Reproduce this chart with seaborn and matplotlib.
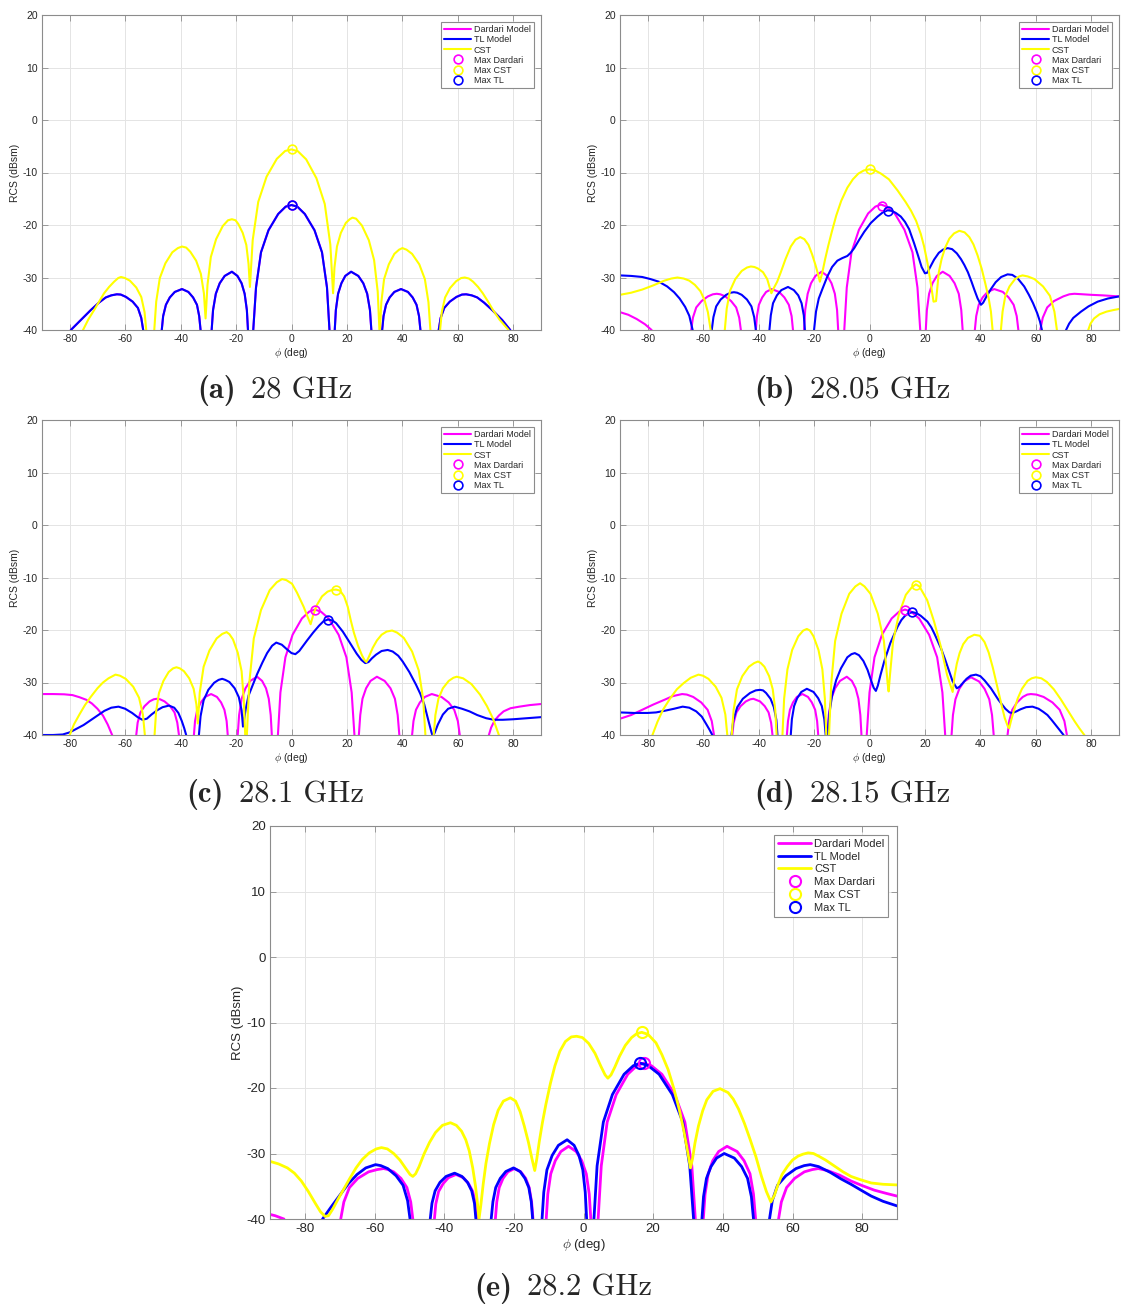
import matplotlib
matplotlib.use("Agg")
import matplotlib.pyplot as plt
import numpy as np
import seaborn as sns

# ---- data: (phi [deg], RCS [dBsm]) ----
# values below -40 only mark nulls that fall outside the visible range

A_TL = [(-84, -50), (-79.6, -40), (-76, -38.1), (-72.4, -36.2), (-69.5, -34.8), (-67, -33.8),
        (-65, -33.4), (-63, -33.2), (-61.6, -33.25), (-59.7, -33.7), (-57.3, -34.6), (-55.4, -35.8),
        (-54.2, -37.7), (-53.5, -40), (-50, -60), (-46.8, -40), (-46.3, -37.35), (-45.3, -35.2),
        (-43.9, -33.8), (-42.1, -32.75), (-39.5, -32.2), (-37.2, -32.75), (-35.5, -33.8),
        (-34.1, -35.2), (-33.3, -37.35), (-32.8, -40), (-30.8, -60), (-28.8, -40), (-28.3, -36.2),
        (-27.3, -33.1), (-25.9, -31.1), (-24.1, -29.7), (-21.5, -28.9), (-19.5, -29.7),
        (-18, -31.1), (-16.9, -33.1), (-16.1, -36.2), (-15.7, -40), (-14.7, -60), (-13.8, -40),
        (-12.8, -31.9), (-11, -25.2), (-8.3, -21), (-4.8, -17.9), (-2.1, -16.5), (0, -16.2),
        (2.1, -16.5), (4.8, -17.9), (8.3, -21), (11, -25.2), (12.8, -31.9), (13.7, -40),
        (14.7, -60), (15.6, -40), (16, -36.2), (16.8, -33.1), (18, -31.1), (19.4, -29.7),
        (21.5, -28.9), (24.1, -29.7), (25.9, -31.1), (27.3, -33.1), (28.3, -36.2), (28.8, -40),
        (30.8, -60), (32.7, -40), (33.2, -37.35), (34.1, -35.2), (35.4, -33.8), (37.1, -32.75),
        (39.5, -32.2), (42, -32.75), (43.7, -33.8), (45.1, -35.2), (46, -37.35), (46.5, -40),
        (49.8, -60), (53.1, -40), (53.8, -37.7), (55.1, -35.8), (57.1, -34.6), (59.5, -33.7),
        (61.5, -33.25), (63, -33.2), (65, -33.4), (67, -33.8), (69.5, -34.8), (72.4, -36.2),
        (76, -38.1), (78.9, -40), (84, -50)]
A_DARDARI = A_TL
A_CST = [(-80, -55), (-75.2, -40), (-73.3, -38), (-71.2, -36.2), (-69.3, -34.5), (-67.6, -33),
         (-65.8, -31.8), (-64, -30.8), (-62.5, -30.1), (-61.5, -29.9), (-60.1, -30.1),
         (-58.3, -30.6), (-56, -31.9), (-54.2, -33.7), (-53, -36.6), (-52.4, -40), (-51, -60),
         (-49.5, -40), (-48.8, -34.6), (-47.5, -30.1), (-45.5, -27.3), (-43, -25.2), (-41, -24.4),
         (-39.5, -24.1), (-38, -24.3), (-36.5, -25.1), (-34.4, -26.8), (-32.7, -29.3),
         (-31.6, -33), (-31, -37.8), (-30.3, -31.4), (-29.1, -26.1), (-27.2, -22.7),
         (-24.8, -20.2), (-22.9, -19.1), (-21.5, -18.9), (-20.2, -19.1), (-19.2, -19.8),
         (-17.6, -21.5), (-16.3, -23.8), (-15.5, -27.4), (-15, -31.8), (-14, -22.9), (-12, -15.6),
         (-9, -10.8), (-5.3, -7.4), (-2.3, -5.9), (0, -5.6), (2.3, -5.95), (5.3, -7.5), (9, -11.1),
         (12, -16), (14, -23.7), (15, -33), (15.5, -28.1), (16.4, -24.1), (17.8, -21.5),
         (19.6, -19.6), (21, -18.9), (22, -18.6), (23.3, -18.8), (25.4, -20.1), (27.9, -22.9),
         (29.8, -26.7), (31.1, -32.7), (31.8, -41), (32.4, -34.7), (33.4, -30.3), (35.1, -27.5),
         (37.1, -25.5), (38.8, -24.7), (40, -24.4), (41.5, -24.7), (43.5, -25.5), (46.1, -27.5),
         (48.1, -30.3), (49.4, -34.7), (50.1, -40), (51.8, -60), (53.6, -40), (54.2, -36.6),
         (55.4, -33.8), (57.2, -32), (59.4, -30.7), (61.2, -30.1), (62.5, -30), (64, -30.2),
         (65.5, -30.8), (67.3, -31.8), (69, -33), (70.8, -34.5), (72.7, -36.2), (75, -38),
         (78.3, -40), (82, -50)]

B_DARDARI = [(-90, -36.6), (-87, -37.1), (-84, -37.9), (-81, -38.9), (-78.6, -40), (-71.5, -60),
             (-64.3, -40), (-63.7, -37.65), (-62.5, -35.7), (-60.6, -34.5), (-58.3, -33.6),
             (-56.5, -33.2), (-55.1, -33.1), (-53.8, -33.2), (-52, -33.6), (-49.9, -34.5),
             (-48.1, -35.7), (-47, -37.65), (-46.4, -40), (-43.7, -60), (-41, -40), (-40.6, -37.35),
             (-39.9, -35.2), (-38.7, -33.8), (-37.3, -32.75), (-35.3, -32.2), (-32.6, -32.75),
             (-30.7, -33.8), (-29.1, -35.2), (-28.1, -37.35), (-27.6, -40), (-25.6, -60),
             (-23.6, -40), (-23.2, -36.2), (-22.3, -33.1), (-21.1, -31.1), (-19.5, -29.7),
             (-17.3, -28.9), (-15.2, -29.7), (-13.7, -31.1), (-12.5, -33.1), (-11.7, -36.2),
             (-11.3, -40), (-10.2, -60), (-9.1, -40), (-8.2, -31.9), (-6.5, -25.2), (-3.8, -20.9),
             (-0.5, -17.8), (2.1, -16.5), (4.1, -16.1), (6.2, -16.5), (9.1, -17.8), (12.6, -20.9),
             (15.5, -25.2), (17.3, -31.9), (18.3, -40), (19.3, -60), (20.3, -40), (20.7, -36.2),
             (21.5, -33.1), (22.7, -31.1), (24.3, -29.7), (26.4, -28.9), (28.9, -29.7),
             (30.7, -31.1), (32.2, -33.1), (33.1, -36.2), (33.6, -40), (35.8, -60), (38, -40),
             (38.5, -37.35), (39.4, -35.2), (40.8, -33.8), (42.6, -32.75), (45, -32.2),
             (48.1, -32.75), (50.2, -33.8), (52, -35.2), (53.1, -37.35), (53.7, -40), (57.6, -60),
             (61.6, -40), (62.5, -37.65), (64.1, -35.7), (66.5, -34.5), (69.9, -33.6),
             (72.1, -33.2), (73.9, -33.1), (77, -33.2), (80, -33.3), (84, -33.4), (90, -33.6)]
B_TL = [(-90, -29.6), (-86, -29.7), (-82, -29.9), (-79, -30.3), (-76, -30.8), (-73, -31.7),
        (-70.5, -32.8), (-68.5, -34), (-66.5, -35.6), (-65, -37.3), (-63.8, -40), (-60.3, -60),
        (-56.9, -40), (-56.3, -37.55), (-55.3, -35.5), (-53.7, -34.2), (-51.7, -33.3),
        (-50.1, -32.9), (-48.9, -32.8), (-47.7, -32.9), (-46.1, -33.3), (-44.2, -34.2),
        (-42.6, -35.5), (-41.6, -37.55), (-41, -40), (-38.5, -60), (-36.1, -40), (-35.6, -37.2),
        (-34.8, -34.9), (-33.4, -33.4), (-31.8, -32.4), (-29.4, -31.8), (-27.3, -32.4),
        (-25.7, -33.4), (-24.5, -34.9), (-23.7, -37.2), (-23.3, -40), (-21.7, -60), (-20, -40),
        (-19.3, -36.5), (-18.3, -34), (-17, -32.2), (-15.2, -29.8), (-13.5, -28), (-11.6, -26.8),
        (-9.8, -26.3), (-8, -25.9), (-6.8, -25.3), (-5.5, -24.4), (-3.7, -22.8), (-1.9, -21.3),
        (0.5, -19.6), (2.9, -18.4), (4.8, -17.6), (6.5, -17.2), (8, -17.3), (9.5, -17.7),
        (11.3, -18.4), (12.8, -19.4), (14.3, -20.8), (16.1, -23.5), (17.5, -25.8), (18.8, -28),
        (20, -29.2), (20.8, -29.1), (21.8, -28.1), (23.3, -26.6), (25, -25.3), (26.5, -24.7),
        (28.2, -24.4), (29.8, -24.6), (31.5, -25.4), (33, -26.5), (34.2, -27.6), (35.5, -29),
        (36.8, -30.8), (37.8, -32.3), (39, -34), (40.2, -35.2), (41, -34.8), (42, -33.8),
        (43.8, -32.2), (45.5, -30.9), (47.5, -29.9), (49.8, -29.4), (51.5, -29.5), (53.5, -30.2),
        (55.8, -31.7), (57.5, -33.3), (59, -34.9), (60.5, -36.8), (61.5, -38.4), (62.2, -40),
        (66.5, -60), (70.9, -40), (72, -38.8), (73.5, -37.7), (76.3, -36.5), (79, -35.5),
        (82.3, -34.6), (86, -34), (90, -33.6)]
B_CST = [(-90, -33.3), (-86, -32.9), (-82, -32.3), (-78, -31.5), (-74, -30.6), (-71.5, -30.2),
         (-69.3, -30), (-67, -30.2), (-65, -30.6), (-63, -31.4), (-61, -32.6), (-59.5, -34.3),
         (-58.3, -36.6), (-57.3, -40), (-54.8, -60), (-52.2, -40), (-51.5, -35.9), (-50.3, -32.5),
         (-48.4, -30.3), (-46.1, -28.75), (-44.2, -28.1), (-42.8, -27.9), (-41.5, -28),
         (-40.2, -28.3), (-38.4, -29), (-36.9, -30.3), (-35.4, -33), (-34.5, -32), (-33.3, -30.8),
         (-32, -29), (-30.3, -26.5), (-28.4, -24.1), (-26.7, -22.8), (-25, -22.3), (-23.5, -22.7),
         (-22, -23.8), (-20.7, -25.6), (-19.5, -27.6), (-18.6, -29.3), (-17.9, -30.8), (-17, -29),
         (-16, -26.5), (-14.9, -24), (-13.6, -21.3), (-12, -18.2), (-10.2, -15.4), (-8, -12.9),
         (-6, -11.3), (-4, -10.2), (-2, -9.6), (0, -9.4), (2, -9.6), (4.1, -10.2), (7, -11.3),
         (10.1, -13.4), (13, -15.6), (15, -17.3), (16.8, -19.2), (18.5, -21.7), (19.7, -24.1),
         (20.9, -27.2), (22.1, -31.1), (23.1, -34.6), (24, -34.5), (25, -29), (26, -26.5),
         (27.3, -24.3), (28.8, -22.6), (30.5, -21.6), (32.4, -21.1), (34.3, -21.4), (36, -22.3),
         (37.5, -23.7), (39, -25.8), (40.5, -28.4), (41.8, -31.2), (43, -34), (43.8, -36.5),
         (44.4, -40), (45.9, -60), (47.4, -40), (48, -36.5), (49, -33.5), (50.5, -31.7),
         (52.5, -30.3), (54, -29.8), (55.2, -29.6), (57.1, -29.8), (59.5, -30.3), (62.6, -31.7),
         (65.1, -33.5), (66.7, -36.5), (67.6, -40), (73, -60), (78.9, -40), (79.7, -38.8),
         (81, -37.8), (83, -37), (85.5, -36.5), (88, -36.2), (90, -36)]

C_DARDARI = [(-90, -32.2), (-86, -32.2), (-82, -32.25), (-79, -32.4), (-76.5, -32.8), (-74, -33.3),
             (-72, -34), (-70, -35), (-68, -36.3), (-66.3, -38), (-64.7, -40), (-60.3, -60),
             (-56, -40), (-55.5, -37.65), (-54.5, -35.7), (-53, -34.5), (-51.2, -33.6),
             (-49.7, -33.2), (-48.6, -33.1), (-47.4, -33.2), (-45.8, -33.6), (-43.8, -34.5),
             (-42.2, -35.7), (-41.2, -37.65), (-40.6, -40), (-38, -60), (-35.2, -40),
             (-34.8, -37.35), (-34, -35.2), (-32.7, -33.8), (-31.2, -32.75), (-29, -32.2),
             (-26.9, -32.75), (-25.4, -33.8), (-24.2, -35.2), (-23.4, -37.35), (-23, -40),
             (-21.2, -60), (-19.4, -40), (-18.9, -36.2), (-18, -33.1), (-16.6, -31.1),
             (-14.9, -29.7), (-12.4, -28.9), (-10.6, -29.7), (-9.2, -31.1), (-8.2, -33.1),
             (-7.5, -36.2), (-7.1, -40), (-6, -60), (-4.9, -40), (-4, -31.9), (-2.2, -25.2),
             (0.4, -20.9), (3.75, -17.8), (6.4, -16.5), (8.4, -16.1), (10.6, -16.5), (13.4, -17.8),
             (17, -20.9), (19.8, -25.2), (21.7, -31.9), (22.7, -40), (23.5, -60), (24.3, -40),
             (24.8, -36.2), (25.6, -33.1), (26.9, -31.1), (28.5, -29.7), (30.8, -28.9),
             (33.6, -29.7), (35.7, -31.1), (37.3, -33.1), (38.3, -36.2), (38.9, -40), (41.2, -60),
             (43.5, -40), (44, -37.35), (44.9, -35.2), (46.3, -33.8), (48.1, -32.75), (50.6, -32.2),
             (54.1, -32.75), (56.7, -33.8), (58.7, -35.2), (60, -37.35), (60.7, -40), (66, -60),
             (71.2, -40), (72, -38.6), (73.2, -37.3), (74.8, -36.3), (76.5, -35.5), (79, -34.9),
             (82.2, -34.6), (86, -34.3), (90, -34.1)]
C_TL = [(-90, -40), (-86, -40), (-82.5, -39.9), (-80, -39.5), (-77.5, -38.8), (-75, -38.1),
        (-72.5, -37.2), (-70, -36.3), (-67.5, -35.4), (-65, -34.8), (-62.4, -34.6), (-60, -35),
        (-57.5, -35.8), (-55.5, -36.6), (-53.8, -37.1), (-52.2, -36.9), (-50.5, -36.1),
        (-48.5, -35.3), (-46.5, -34.7), (-44.2, -34.4), (-42.3, -34.8), (-40.8, -35.8),
        (-39.6, -37.3), (-38.7, -38.7), (-38, -40), (-35.7, -60), (-33.4, -40), (-32.8, -36.4),
        (-31.7, -33.4), (-30, -31.4), (-27.9, -30.05), (-26.3, -29.5), (-25, -29.3),
        (-23.9, -29.5), (-22.4, -29.9), (-20.5, -31.1), (-19, -32.8), (-18, -35.3),
        (-17.5, -38.4), (-16.5, -35), (-15.5, -32.5), (-14, -30.5), (-12.4, -28.4),
        (-10.5, -26.2), (-8.8, -24.4), (-7, -23), (-5.5, -22.4), (-3.5, -22.8), (-1.6, -23.7),
        (0, -24.4), (1.4, -24.6), (2.8, -24), (4.2, -23), (5.6, -22), (7.8, -20.5), (9.9, -19.2),
        (11.6, -18.3), (13.2, -18), (14.8, -18.2), (16.1, -18.7), (18.5, -20.3), (20.9, -22.3),
        (23.5, -24.5), (25.2, -25.7), (26.6, -26.3), (27.8, -26.1), (29, -25.4), (30.5, -24.7),
        (32.5, -24), (34.7, -23.8), (36.5, -24.1), (38.5, -24.9), (40.1, -26), (42.5, -28),
        (44.9, -30.4), (46.5, -32.2), (47.9, -34.2), (49.5, -37.5), (50.5, -39.5), (51, -40.3),
        (51.7, -39.5), (52.8, -38), (54.6, -36.1), (56.5, -35), (58.8, -34.6), (61.5, -35),
        (64.2, -35.5), (67, -36.2), (70.2, -36.8), (73, -37.1), (76.2, -37.1), (80, -37),
        (85, -36.8), (90, -36.6)]
C_CST = [(-84, -50), (-80, -40), (-78.5, -38), (-76.4, -36), (-74.5, -34.3), (-72.5, -32.8),
         (-70, -31.1), (-68, -30), (-66, -29.2), (-63.5, -28.5), (-61.9, -28.7), (-59.8, -29.3),
         (-57.1, -30.8), (-55, -32.9), (-53.6, -36.1), (-52.9, -40), (-51.2, -60), (-49.4, -40),
         (-48.85, -35.6), (-47.8, -32), (-46.2, -29.7), (-44.3, -28), (-42.7, -27.3),
         (-41.5, -27.1), (-40.3, -27.3), (-38.8, -27.85), (-36.9, -29.2), (-35.3, -31.2),
         (-34.3, -34.2), (-33.8, -37.8), (-33.1, -31.9), (-31.7, -27), (-29.6, -23.9),
         (-27, -21.6), (-25, -20.75), (-23.4, -20.4), (-22.4, -20.8), (-21.1, -21.8),
         (-19.4, -24.3), (-18, -27.85), (-17.2, -33.3), (-16.7, -40), (-16.4, -45), (-16.1, -40),
         (-15.2, -29.9), (-13.6, -21.6), (-11, -16.2), (-7.85, -12.4), (-5.3, -10.9),
         (-3.4, -10.3), (-1.85, -10.5), (0.2, -11.2), (2, -12.9), (4.4, -15.6), (5.8, -17.5),
         (6.9, -18.9), (7.8, -17.2), (9.2, -15.2), (11, -13.6), (13, -12.7), (14.7, -12.35),
         (16.1, -12.3), (17.5, -12.5), (19, -13.6), (20.3, -15.6), (21.4, -18.2), (22.5, -20.5),
         (24, -23), (25.4, -24.8), (26.3, -25.7), (27, -26.1), (28, -25), (29.3, -23.4),
         (30.8, -22), (32.5, -20.9), (34.3, -20.3), (36.3, -20.1), (38.1, -20.5), (40.5, -21.5),
         (43.5, -24.1), (45.9, -27.7), (47.5, -33.2), (48.3, -40), (49.8, -60), (51.3, -40),
         (51.9, -36.2), (53, -33.1), (54.6, -31.1), (56.7, -29.7), (58.4, -29.1), (59.6, -28.9),
         (61.9, -29.2), (64.9, -30.3), (68, -32.3), (70.5, -34.5), (72.8, -37), (74.8, -40),
         (80, -55)]

D_DARDARI = [(-90, -36.9), (-86, -36.2), (-82, -35.2), (-78, -34.2), (-74, -33.3), (-71, -32.6),
             (-67.6, -32.2), (-65.9, -32.3), (-63.6, -32.75), (-60.7, -33.8), (-58.4, -35.2),
             (-56.9, -37.35), (-56.1, -40), (-52.8, -60), (-49.5, -40), (-49, -37.65), (-48, -35.7),
             (-46.5, -34.5), (-44.6, -33.6), (-43, -33.2), (-41.9, -33.1), (-39.5, -33.6),
             (-37.8, -34.5), (-36.4, -35.7), (-35.5, -37.65), (-35, -40), (-32.4, -60),
             (-29.8, -40), (-29.4, -37.35), (-28.7, -35.2), (-27.6, -33.8), (-26.2, -32.75),
             (-24.2, -32.2), (-22.2, -32.75), (-20.8, -33.8), (-19.6, -35.2), (-18.9, -37.35),
             (-18.5, -40), (-16.9, -60), (-15.2, -40), (-14.7, -36.2), (-13.8, -33.1),
             (-12.4, -31.1), (-10.65, -29.7), (-8.2, -28.9), (-6.35, -29.7), (-5, -31.1),
             (-4, -33.1), (-3.3, -36.2), (-2.9, -40), (-2, -60), (-1, -40), (0, -31.9), (1.8, -25.2),
             (4.5, -20.9), (8, -17.8), (10.7, -16.5), (12.8, -16.1), (15, -16.5), (17.9, -17.8),
             (21.5, -20.9), (24.4, -25.2), (26.3, -31.9), (27.3, -40), (28.4, -60), (29.6, -40),
             (30.1, -36.2), (31, -33.2), (32.4, -31.2), (34.15, -29.8), (36.6, -29), (39.5, -29.8),
             (41.5, -31.2), (43.2, -33.2), (44.2, -36.2), (44.8, -40), (47.3, -60), (49.8, -40),
             (50.4, -37.35), (51.5, -35.2), (53.2, -33.8), (55.3, -32.75), (56.9, -32.3),
             (58.2, -32.2), (60.2, -32.3), (62.8, -32.75), (66, -33.8), (68.6, -35.2),
             (70.3, -37.35), (71.2, -40), (76, -55)]
D_TL = [(-90, -35.7), (-85, -35.8), (-80, -35.8), (-77, -35.7), (-74, -35.4), (-70.5, -35),
        (-67.4, -34.6), (-65, -34.8), (-62.5, -35.5), (-60.5, -36.5), (-58.8, -38), (-57.7, -39),
        (-56.7, -40), (-53.2, -60), (-49.8, -40), (-49.1, -37.1), (-47.7, -34.7), (-45.7, -33.1),
        (-43.1, -32), (-41.05, -31.5), (-39.5, -31.4), (-38.4, -31.5), (-37.3, -32),
        (-35.7, -33.1), (-34.5, -34.7), (-33.6, -37.1), (-33.2, -40), (-30.8, -60), (-28.4, -40),
        (-28, -37), (-27.2, -34.5), (-26.1, -33), (-24.6, -31.8), (-22.6, -31.2), (-20.2, -31.8),
        (-18.5, -33), (-17.2, -34.5), (-16.3, -37), (-15.8, -40), (-15.5, -41), (-15.2, -40),
        (-14.5, -36), (-13.5, -32.5), (-12, -29.5), (-10.3, -27.3), (-8, -25.2), (-6.5, -24.6),
        (-5.3, -24.4), (-3.8, -24.8), (-2.2, -25.9), (-0.7, -27.6), (0.5, -29.5), (1.5, -31),
        (2.3, -31.6), (3, -30.6), (4, -28.5), (5.3, -26), (7.5, -22.5), (10.1, -19.4),
        (11.5, -18.1), (12.8, -17.3), (14.2, -16.8), (15.5, -16.6), (17, -16.8), (18.5, -17.3),
        (20.9, -18.4), (22.3, -19.5), (23.5, -20.8), (25.8, -23.5), (27.2, -25.5), (28.5, -27.5),
        (30, -29.8), (31.5, -31.1), (32.5, -30.8), (33.5, -30.2), (35, -29.3), (36.5, -28.7),
        (38.4, -28.5), (40, -28.8), (41.5, -29.6), (43.8, -31.1), (46.5, -33.3), (49, -35),
        (50.5, -35.7), (51.6, -35.8), (53, -35.5), (54.5, -35.1), (56.5, -34.7), (58.8, -34.6),
        (61, -35), (62.7, -35.6), (64.2, -36.2), (65.8, -37.2), (67, -38), (68.5, -39), (70, -40),
        (75, -55)]
D_CST = [(-84, -50), (-78.3, -40), (-76.5, -37.5), (-74.5, -35.2), (-72, -33.1), (-69.5, -31.3),
         (-67, -30.1), (-64.5, -29.1), (-61.7, -28.5), (-60.1, -28.7), (-58.1, -29.3),
         (-55.5, -30.8), (-53.4, -32.9), (-52, -36.1), (-51.3, -40), (-50.5, -55), (-49.7, -40),
         (-49, -35.2), (-47.8, -31.3), (-45.9, -28.8), (-43.5, -27), (-41.6, -26.3), (-40.2, -26),
         (-39.2, -26.3), (-37.9, -27), (-36.2, -28.8), (-34.9, -31.3), (-34, -35.2), (-33.5, -40),
         (-32.5, -60), (-31.4, -40), (-30.8, -33.1), (-29.6, -27.5), (-27.9, -23.8),
         (-25.7, -21.2), (-23.9, -20.1), (-22.6, -19.8), (-21.5, -20.1), (-20.2, -21.2),
         (-18.4, -23.8), (-17, -27.5), (-16.1, -33.1), (-15.6, -40), (-15.1, -45), (-14.6, -40),
         (-13.8, -30.2), (-12.4, -22.1), (-10.1, -16.9), (-7.3, -13.1), (-5.1, -11.7),
         (-3.4, -11.1), (-1.8, -11.7), (0.35, -13.1), (3, -16.9), (5.2, -22.1), (6.55, -30.2),
         (6.9, -31.7), (7.4, -28.5), (8.5, -22.2), (10.6, -17), (13.1, -13.3), (15.2, -11.9),
         (16.7, -11.3), (18, -11.7), (20.8, -14.3), (23.3, -18.4), (25.8, -23.3), (28, -28.6),
         (30, -31.8), (30.7, -28.7), (31.5, -26.4), (32.5, -24.4), (33.8, -22.7), (35.5, -21.5),
         (37.8, -20.9), (39.8, -21.1), (41.5, -22.3), (43, -24.3), (44.5, -27.2), (46, -30.6),
         (47.5, -34), (48.8, -36.8), (50, -38.5), (50.4, -38.7), (51, -37.4), (52, -35.5),
         (53.5, -33), (55, -31.2), (57, -29.7), (58.5, -29.2), (60, -29), (62, -29.2), (64, -29.9),
         (66.5, -31.3), (69, -33.2), (71.5, -35.3), (74, -37.4), (75.8, -38.8), (77.5, -40),
         (82, -50)]

E_DARDARI = [(-90, -39.3), (-88.5, -39.5), (-87, -39.8), (-86, -40), (-78, -60), (-69.7, -40),
             (-68.8, -37.4), (-67.2, -35.2), (-64.8, -33.8), (-61.7, -32.8), (-59.2, -32.45),
             (-57.4, -32.3), (-56.1, -32.45), (-54.5, -32.8), (-52.4, -33.8), (-50.7, -35.2),
             (-49.6, -37.4), (-49, -40), (-46, -60), (-42.8, -40), (-42.4, -37.7), (-41.6, -35.8),
             (-40.3, -34.6), (-38.8, -33.7), (-36.6, -33.2), (-34.5, -33.7), (-33, -34.6),
             (-31.8, -35.8), (-31, -37.7), (-30.6, -40), (-28, -60), (-25.3, -40), (-24.9, -37.4),
             (-24.2, -35.2), (-23.1, -33.8), (-21.7, -32.8), (-19.8, -32.3), (-18, -32.8),
             (-16.6, -33.8), (-15.6, -35.2), (-14.9, -37.4), (-14.5, -40), (-12.6, -60),
             (-10.7, -40), (-10.25, -36.2), (-9.4, -33.1), (-8.1, -31.1), (-6.5, -29.7),
             (-4.3, -28.9), (-2.1, -29.7), (-0.5, -31.1), (0.8, -33.1), (1.65, -36.2), (2.1, -40),
             (3.2, -60), (4.2, -40), (5.1, -31.9), (6.8, -25.2), (9.4, -21), (12.7, -17.9),
             (15.3, -16.6), (17.3, -16.2), (19.5, -16.6), (22.5, -17.9), (26.2, -21), (29.1, -25.2),
             (31.1, -31.9), (32.1, -40), (33.2, -60), (34.4, -40), (34.9, -36.2), (35.8, -33.1),
             (37.1, -31.1), (38.8, -29.7), (41.2, -28.9), (44.1, -29.7), (46.1, -31.1),
             (47.8, -33.1), (48.8, -36.2), (49.4, -40), (52.7, -60), (56, -40), (56.8, -37.4),
             (58.3, -35.2), (60.6, -33.8), (63.4, -32.8), (65.7, -32.45), (67.4, -32.3),
             (70, -32.6), (73.5, -33.3), (76.8, -34.2), (80, -34.9), (83.5, -35.6), (87, -36.1),
             (90, -36.5)]
E_TL = [(-84, -60), (-74.9, -40), (-72.5, -38.2), (-70, -36.4), (-67.5, -34.6), (-65, -33.2),
        (-62.5, -32.2), (-59.7, -31.7), (-58.2, -31.85), (-56.2, -32.3), (-53.8, -33.4),
        (-51.8, -34.85), (-50.5, -37.2), (-49.8, -40), (-46.9, -60), (-44, -40), (-43.5, -37.6),
        (-42.6, -35.7), (-41.2, -34.4), (-39.45, -33.5), (-37, -33), (-34.9, -33.5),
        (-33.3, -34.4), (-32.1, -35.7), (-31.3, -37.6), (-30.9, -40), (-28.7, -60), (-26.5, -40),
        (-26, -37.35), (-25.2, -35.2), (-23.9, -33.8), (-22.3, -32.75), (-20.1, -32.2),
        (-18.2, -32.75), (-16.8, -33.8), (-15.7, -35.2), (-15, -37.35), (-14.6, -40),
        (-13.2, -60), (-11.9, -40), (-11.4, -35.9), (-10.5, -32.5), (-9, -30.3), (-7.2, -28.75),
        (-4.7, -27.9), (-2.7, -28.75), (-1.3, -30.3), (-0.2, -32.5), (0.5, -35.9), (0.9, -40),
        (2, -60), (3, -40), (3.9, -31.9), (5.7, -25.2), (8.3, -21), (11.65, -17.9), (14.3, -16.6),
        (16.3, -16.2), (18.6, -16.6), (21.7, -17.9), (25.5, -21), (28.5, -25.2), (30.5, -31.9),
        (31.6, -40), (32.8, -60), (34, -40), (34.45, -36.6), (35.3, -33.8), (36.6, -32),
        (38.2, -30.7), (40.4, -30), (43.3, -30.7), (45.4, -32), (47.1, -33.8), (48.2, -36.6),
        (48.8, -40), (51.1, -60), (53.4, -40), (54.2, -37.2), (55.7, -34.85), (58.1, -33.4),
        (61, -32.3), (63.35, -31.85), (65.1, -31.7), (67.5, -32), (70.9, -32.9), (74, -33.9),
        (76.8, -34.7), (80, -35.7), (82.6, -36.5), (86, -37.3), (90, -38)]
E_CST = [(-90, -31.2), (-87.5, -31.6), (-85, -32.2), (-83, -33), (-81, -34.2), (-79, -35.8),
         (-77, -37.6), (-75.5, -38.9), (-74.2, -39.6), (-73.2, -39.5), (-72, -38.5), (-70.5, -37),
         (-69, -35.6), (-67.2, -33.9), (-65.3, -32.2), (-63.5, -30.9), (-61.5, -29.9),
         (-59.5, -29.3), (-58, -29.1), (-56.3, -29.3), (-54.5, -30), (-52.7, -31), (-51, -32.3),
         (-49.8, -33.2), (-49, -33.5), (-48.2, -33.1), (-47.2, -32), (-45.8, -30.1),
         (-44.2, -28.3), (-42.5, -26.8), (-40.5, -25.7), (-38.2, -25.3), (-36.5, -25.7),
         (-35, -26.6), (-33.8, -27.9), (-32.8, -29.6), (-31.8, -32.2), (-31, -35), (-30.4, -37.8),
         (-30, -40), (-29.5, -38), (-28.8, -34.7), (-28, -31.5), (-27, -28.5), (-25.8, -25.6),
         (-24.5, -23.4), (-23, -22), (-21, -21.5), (-19.5, -22), (-18.2, -23.6), (-17, -25.8),
         (-15.8, -28.3), (-14.8, -30.8), (-14, -32.6), (-13.4, -30.8), (-12.7, -28.2),
         (-11.8, -25.3), (-10.8, -22.5), (-9.5, -19.3), (-8.2, -16.6), (-6.8, -14.4),
         (-5.2, -12.9), (-3.5, -12.2), (-2, -12.1), (-0.3, -12.3), (1.5, -13.2), (3.3, -14.7),
         (5, -16.7), (6.2, -18), (7, -18.5), (7.9, -18), (9, -16.8), (10.3, -15.2), (12, -13.5),
         (13.8, -12.3), (15.3, -11.7), (16.7, -11.5), (18.5, -11.8), (20.8, -13.1), (22.5, -14.9),
         (24.3, -17.2), (26, -20.2), (27.5, -23.3), (28.8, -26.5), (29.8, -29.4), (30.7, -32.2),
         (31.3, -30.8), (32, -28.4), (33, -25.8), (34.2, -23.5), (35.4, -21.8), (37.2, -20.5),
         (39.2, -20.1), (41.5, -20.7), (43, -21.7), (44.5, -23.2), (46.2, -25.4), (47.8, -27.8),
         (49.5, -30.5), (51.1, -33.5), (52.5, -35.8), (53.8, -37.4), (54.8, -36.4), (55.8, -34.8),
         (57, -33.2), (58.5, -32), (60, -31), (61.6, -30.4), (63, -30.1), (64.5, -29.9),
         (66, -30), (67.5, -30.4), (69.5, -31), (72, -31.9), (74.5, -32.8), (76.8, -33.5),
         (79.5, -34), (82.6, -34.5), (86, -34.7), (90, -34.8)]

# maxima markers: (phi, RCS) for Dardari, CST, TL
MAX_POINTS = {
    "a": [(0, -16.2), (0, -5.6), (0, -16.2)],
    "b": [(4.5, -16.3), (0, -9.4), (6.6, -17.3)],
    "c": [(8.4, -16.1), (16.1, -12.3), (13.3, -18.0)],
    "d": [(12.8, -16.1), (16.8, -11.4), (15.5, -16.6)],
    "e": [(17.3, -16.2), (16.8, -11.4), (16.3, -16.2)],
}
CAPTIONS = {"a": "28 GHz", "b": "28.05 GHz", "c": "28.1 GHz", "d": "28.15 GHz", "e": "28.2 GHz"}
CURVES = {
    "a": (A_DARDARI, A_TL, A_CST),
    "b": (B_DARDARI, B_TL, B_CST),
    "c": (C_DARDARI, C_TL, C_CST),
    "d": (D_DARDARI, D_TL, D_CST),
    "e": (E_DARDARI, E_TL, E_CST),
}

LINE_LABELS = ["Dardari Model", "TL Model", "CST"]
MAX_LABELS = ["Max Dardari", "Max CST", "Max TL"]
LINE_COLORS = ["#ff00ff", "#0000ff", "#ffff00"]
MAX_COLORS = ["#ff00ff", "#ffff00", "#0000ff"]

sns.set_theme(style="white")
plt.rcParams["font.family"] = ["Liberation Sans", "DejaVu Sans"]
plt.rcParams["mathtext.fontset"] = "cm"
plt.rcParams["axes.unicode_minus"] = False

fig = plt.figure(figsize=(11.21, 13.09), dpi=100)
W, H = 1121, 1309
renderer = fig.canvas.get_renderer()

# axes boxes in pixels: left, top, right, bottom
boxes = {
    "a": (42, 15, 541, 330),
    "b": (620, 15, 1119, 330),
    "c": (42, 420, 541, 735),
    "d": (620, 420, 1119, 735),
    "e": (270, 826, 897, 1219),
}
caption_pos = {"a": (275, 391), "b": (852, 391), "c": (275, 795), "d": (852, 795), "e": (563, 1288)}

for key, (l, t, r, b) in boxes.items():
    big = key == "e"
    fs = 9.5 if big else 7.5
    lw = 2.0 if big else 1.5
    ax = fig.add_axes([l / W, 1 - b / H, (r - l) / W, (b - t) / H])

    for pts, lab, col in zip(CURVES[key], LINE_LABELS, LINE_COLORS):
        arr = np.array(pts, dtype=float)
        sns.lineplot(x=arr[:, 0], y=arr[:, 1], ax=ax, color=col, linewidth=lw,
                     label=lab, estimator=None, sort=False, solid_joinstyle="round")

    for (px, py), lab, col in zip(MAX_POINTS[key], MAX_LABELS, MAX_COLORS):
        ax.plot([px], [py], "o", mfc="none", mec=col, mew=1.5 if big else 1.2,
                ms=8 if big else 6.3, label=lab, zorder=5)

    ax.set_xlim(-90, 90)
    ax.set_ylim(-40, 20)
    ax.set_xticks(np.arange(-80, 81, 20))
    ax.set_yticks(np.arange(-40, 21, 10))
    ax.grid(True, color="#e4e4e4", linewidth=0.7)
    ax.set_axisbelow(True)
    for sp in ax.spines.values():
        sp.set_visible(True)
        sp.set_color("#8c8c8c")
        sp.set_linewidth(0.8)
    ax.tick_params(direction="in", length=4, width=0.6, colors="#8c8c8c",
                   labelcolor="#262626", labelsize=fs, top=True, right=True,
                   bottom=True, left=True, pad=3)
    ax.set_xlabel(r"$\phi$ (deg)", fontsize=fs, color="#262626", labelpad=1)
    ax.set_ylabel("RCS (dBsm)", fontsize=fs, color="#262626", labelpad=2)

    handles, labels = ax.get_legend_handles_labels()
    leg = ax.legend(handles, labels, loc="upper right", fontsize=8 if big else 6.5,
                    handlelength=3.0, handletextpad=0.25,
                    labelspacing=0.25 if big else 0.12,
                    borderpad=0.35, borderaxespad=0.8, frameon=True, fancybox=False,
                    framealpha=1, edgecolor="#8c8c8c")
    leg.get_frame().set_linewidth(0.8)
    for txt in leg.get_texts():
        txt.set_color("#262626")

    # caption: bold "(x)" followed by the frequency in Computer Modern
    cx, cy = caption_pos[key]
    t1 = fig.text(0, 1 - cy / H, f"({key})", family="cmb10", fontsize=22,
                  ha="left", va="center")
    t2 = fig.text(0, 1 - cy / H, CAPTIONS[key], family="cmr10", fontsize=22,
                  ha="left", va="center")
    w1 = t1.get_window_extent(renderer).width
    w2 = t2.get_window_extent(renderer).width
    gap = 15
    x0 = cx - (w1 + gap + w2) / 2
    t1.set_x(x0 / W)
    t2.set_x((x0 + w1 + gap) / W)

fig.savefig("out.png", dpi=100)
